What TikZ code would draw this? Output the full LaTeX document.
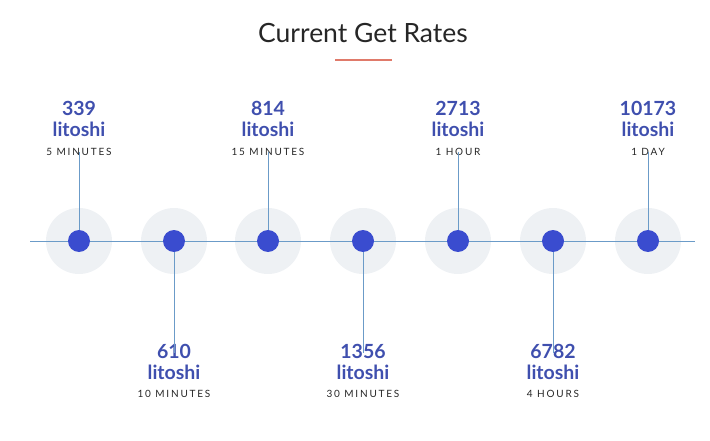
\documentclass[tikz,border=0pt]{standalone}
\usepackage{fontspec}
\setmainfont{Lato}
\newfontfamily\spacedfont[LetterSpace=18]{Lato}

\definecolor{rateblue}{HTML}{3F4FAE}
\definecolor{dotblue}{HTML}{3A4CCF}
\definecolor{halogray}{HTML}{EEF1F4}
\definecolor{stemblue}{HTML}{6B9BC8}
\definecolor{titlered}{HTML}{E07A6A}

\tikzset{
  rate/.style={text=rateblue, font=\fontsize{19.5}{21}\selectfont\bfseries, align=center, inner sep=0pt},
  period/.style={text=black!85, font=\fontsize{10}{11}\spacedfont, inner sep=0pt},
  halo/.style={circle, fill=halogray, minimum size=66pt, inner sep=0pt},
  dot/.style={circle, fill=dotblue, minimum size=22pt, inner sep=0pt},
  stem/.style={stemblue, line width=0.9pt}
}

\begin{document}
\begin{tikzpicture}[x=1pt, y=-1pt]
        \useasboundingbox (0,0) rectangle (710,441);

        % Titulo
        \node[font=\fontsize{26.5}{29}\selectfont, text=black!85] (title) at (363,33) {Current Get Rates};
        \draw[titlered, line width=2.6pt] (335,60) -- (392,60);

        % Halos
        \foreach \x [count=\i] in {79,174,268,363,458,553,648}
            \node[halo] (halo\i) at (\x,241) {};

        % Eixo
        \coordinate (axisL) at (30,241);
        \coordinate (axisR) at (695,241);
        \draw[stem] (axisL) -- (axisR);

        % Rotulos de cima
        \node[rate] (rate1) at (79,119) {339\\litoshi};
        \node[period] (time1) at (79,152) {5 MINUTES};
        \node[rate] (rate3) at (268,119) {814\\litoshi};
        \node[period] (time3) at (268,152) {15 MINUTES};
        \node[rate] (rate5) at (458,119) {2713\\litoshi};
        \node[period] (time5) at (458,152) {1 HOUR};
        \node[rate] (rate7) at (648,119) {10173\\litoshi};
        \node[period] (time7) at (648,152) {1 DAY};

        % Rotulos de baixo
        \node[rate] (rate2) at (174,362) {610\\litoshi};
        \node[period] (time2) at (174,394) {10 MINUTES};
        \node[rate] (rate4) at (363,362) {1356\\litoshi};
        \node[period] (time4) at (363,394) {30 MINUTES};
        \node[rate] (rate6) at (553,362) {6782\\litoshi};
        \node[period] (time6) at (553,394) {4 HOURS};

        % Hastes
        \draw[stem] (time1.center) -- (halo1.center);
        \draw[stem] (time3.center) -- (halo3.center);
        \draw[stem] (time5.center) -- (halo5.center);
        \draw[stem] (time7.center) -- (halo7.center);
        \draw[stem] (halo2.center) -- ([yshift=-9pt]rate2.north);
        \draw[stem] (halo4.center) -- ([yshift=-9pt]rate4.north);
        \draw[stem] (halo6.center) -- ([yshift=-9pt]rate6.north);

        % Pontos
        \foreach \i in {1,...,7}
            \node[dot] (dot\i) at (halo\i) {};
\end{tikzpicture}
\end{document}
